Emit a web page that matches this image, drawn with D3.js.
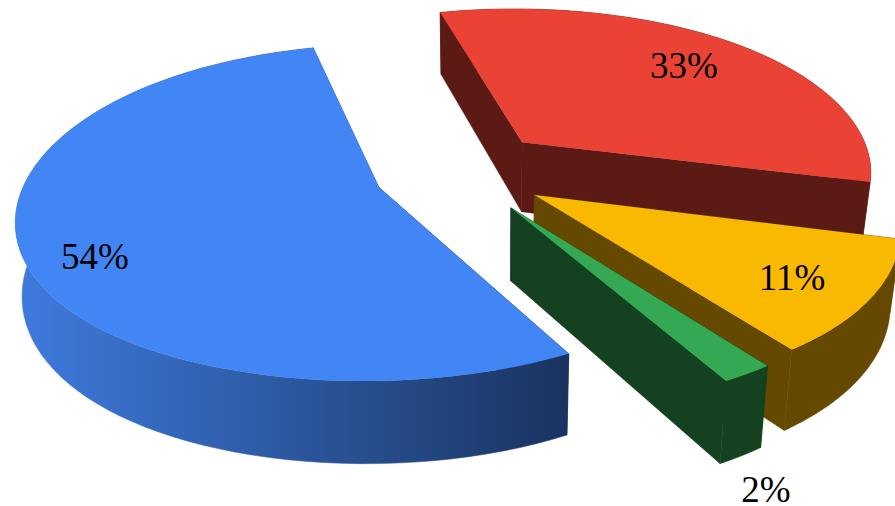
<!DOCTYPE html>
<html><head><meta charset="utf-8">
<script src="https://cdn.jsdelivr.net/npm/d3@7"></script>
<style>html,body{margin:0;padding:0;background:#fff;overflow:hidden}svg{display:block}</style>
</head><body><svg id="c" width="895" height="506"></svg>
<script>
const categories = ["Red","Yellow","Green","Blue"];
const values = [33,11,2,54];
const labels = ["33%","11%","2%","54%"];
const topColors = ["#EA4335","#F9B900","#34A853","#4285F4"];
const wallColors = ["#5B1A14","#654900","#144220","url(#blueWall)"];

// camera / layout of the exploded 3D pie
const rad = Math.PI/180;
const startAngle = -14*rad;
const C = {x:461,y:172,Fx:364,Fy:158,p:0.16,explode:0.23,H:71,mR:0.026,mL:0.014,x0:500,squeeze:0.035,backLift:0.03};
const labelAt = [[684,65],[792,277],[766,489],[95,256]]; // label centres
const nudge = [[3,-5],[3,2],[4,4],[-3,2]];

const svg = d3.select("#c");
const grad = svg.append("defs").append("linearGradient").attr("id","blueWall")
  .attr("gradientUnits","userSpaceOnUse").attr("x1",12).attr("x2",570).attr("y1",0).attr("y2",0);
grad.append("stop").attr("offset",0).attr("stop-color","#3F7CDF");
grad.append("stop").attr("offset",1).attr("stop-color","#19335F");

const arcs = d3.pie().sort(null).startAngle(startAngle).endAngle(startAngle+2*Math.PI)(values);

function project(X,Y,n){
  const w = 1+C.p*Y;
  return {x:C.x+n[0]+C.Fx*X/w, y:C.y+n[1]-C.Fy*Y/w, w};
}
const drop = q => [q.x-(q.x>C.x0?C.mR:C.mL)*(q.x-C.x0), q.y+C.H/Math.pow(q.w,0.8)];
const xy = q => [q.x,q.y];
const line = d3.line();

arcs.forEach((a,i)=>{
  const mid=(a.startAngle+a.endAngle)/2, n=nudge[i];
  const ox=C.explode*Math.sin(mid), oy=C.explode*Math.cos(mid);
  const pt=(r,t)=>{
    const s=Math.sin(t), c=Math.cos(t);
    return project(ox+r*s*(1-C.squeeze*s*s), oy+r*c*(1+C.backLift*Math.max(0,c)), n);
  };
  const steps=d3.range(0,81).map(k=>a.startAngle+(a.endAngle-a.startAngle)*k/80);
  const rim=steps.map(t=>pt(1,t));
  const apex=pt(0,0);
  const g=svg.append("g").datum(a);
  const wall=(pts)=>g.append("path").attr("d",line(pts)+"Z").attr("fill",wallColors[i]).attr("stroke",wallColors[i]).attr("stroke-width",0.5);
  wall([xy(apex),xy(rim[0]),drop(rim[0]),drop(apex)]);
  wall([xy(apex),xy(rim[80]),drop(rim[80]),drop(apex)]);
  wall(rim.map(xy).concat(rim.slice().reverse().map(drop)));
  g.append("path").attr("d",line([xy(apex)].concat(rim.map(xy)))+"Z").attr("fill",topColors[i]);
});
svg.selectAll("text.l").data(labels).join("text").attr("class","l")
  .attr("x",(d,i)=>labelAt[i][0]).attr("y",(d,i)=>labelAt[i][1]).attr("text-anchor","middle").attr("dominant-baseline","central")
  .attr("font-family","'Liberation Serif'").attr("font-size",37).attr("fill","#000").text(d=>d);
</script></body></html>
